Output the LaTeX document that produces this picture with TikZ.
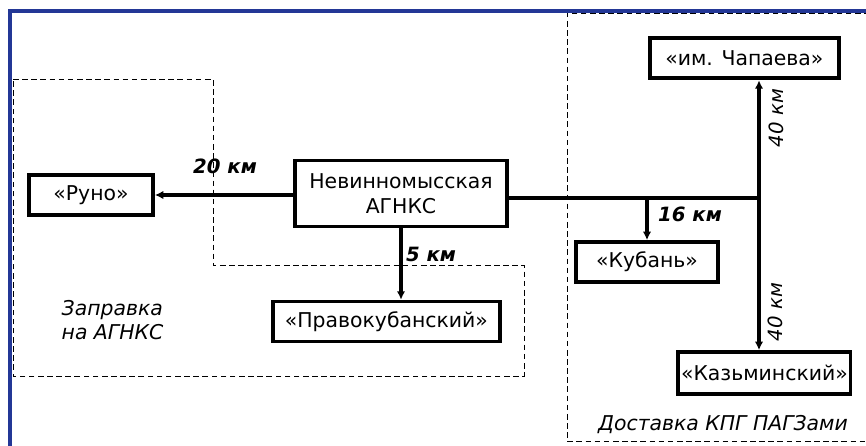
\documentclass[tikz,border=0pt]{standalone}
\usepackage{fontspec}
\setmainfont{DejaVu Sans}
\usepackage{xcolor}
\usetikzlibrary{positioning, arrows.meta, calc}
\definecolor{framblue}{RGB}{35,55,150}

\begin{document}
\begin{tikzpicture}[
  station/.style={rectangle, draw=black, line width=2.7pt, fill=white,
                  minimum height=1.0cm, inner sep=2pt,
                  align=center, font=\fontsize{14.5}{17.5}\selectfont},
  arr/.style={-{Latex[length=6pt, width=6pt]}, line width=2.5pt},
  trunk/.style={line width=2.5pt},
  zone/.style={dashed, line width=0.7pt, dash pattern=on 4pt off 2.5pt},
  dist/.style={font=\fontsize{14}{17}\selectfont\bfseries\itshape, inner sep=1pt},
  zlbl/.style={font=\fontsize{14.5}{17.5}\selectfont\itshape, align=left, inner sep=1pt}
]
\useasboundingbox (0,0) rectangle (21.65,-11.15);

% Frame
\draw[framblue, line width=2.2pt] (0.25,-11.5) -- (0.25,-0.275) -- (22,-0.275);

% Zones
\draw[zone] (0.325,-1.975) -- (5.325,-1.975) -- (5.325,-6.625) -- (13.1,-6.625)
    -- (13.1,-9.4) -- (0.325,-9.4) -- cycle;
\draw[zone] (22.2,-0.325) -- (14.175,-0.325) -- (14.175,-11.025) -- (22.2,-11.025);

% Stations
\node[station, minimum width=5.3cm, minimum height=1.65cm] (agnks) at (10.025,-4.84)
    {Невинномысская\\АГНКС};
\node[station, minimum width=3.1cm] (runo)   at (2.275,-4.875)  {«Руно»};
\node[station, minimum width=5.68cm] (pravo)  at (9.66,-8.04)    {«Правокубанский»};
\node[station, minimum width=4.73cm] (chap)   at (18.61,-1.46)   {«им. Чапаева»};
\node[station, minimum width=3.55cm] (kuban)  at (16.175,-6.55)  {«Кубань»};
\node[station, minimum width=4.18cm, minimum height=1.05cm] (kazm) at (19.11,-9.325)
    {«Казьминский»};

% Junction
\coordinate (jn) at (18.975,-4.95);

% Arrows
\draw[arr] (agnks.west |- runo.east) -- (runo.east);
\draw[arr] (agnks.south) -- (agnks.south |- pravo.north);
\draw[trunk] (agnks.east |- jn) -- (jn);
\draw[arr] (jn) -- (jn |- chap.south);
\draw[arr] (jn) -- (jn |- kazm.north);
\draw[arr] (kuban.north |- jn) -- (kuban.north);

% Distances
\node[dist] (d20) at (5.625,-4.15) {20 км};
\node[dist] (d5)  at (10.775,-6.35) {5 км};
\node[dist] (d16) at (17.25,-5.35) {16 км};
\node[dist, font=\fontsize{14}{17}\selectfont\itshape, rotate=90] (d40a) at (19.4,-2.95) {40 км};
\node[dist, font=\fontsize{14}{17}\selectfont\itshape, rotate=90] (d40b) at (19.375,-7.8) {40 км};

% Zone labels
\node[zlbl, anchor=west] (zfill) at (1.5,-8.0) {Заправка\\на АГНКС};
\node[zlbl] (zdel) at (18.075,-10.625) {Доставка КПГ ПАГЗами};

\end{tikzpicture}
\end{document}
